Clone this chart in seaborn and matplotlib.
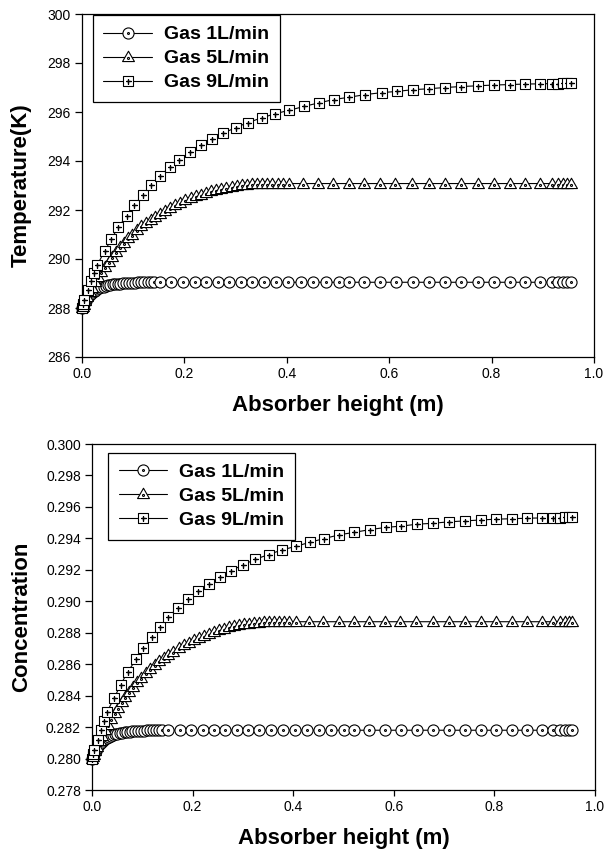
import matplotlib
matplotlib.use("Agg")
import matplotlib.pyplot as plt
from matplotlib.path import Path
from matplotlib.lines import Line2D
import numpy as np
import pandas as pd
import seaborn as sns

# ---------------- data ----------------
series_labels = ["Gas 1L/min", "Gas 5L/min", "Gas 9L/min"]

x_gas1 = [0.000, 0.002, 0.004, 0.007, 0.010, 0.014, 0.018, 0.022, 0.026, 0.030,
          0.034, 0.038, 0.042, 0.046, 0.050, 0.055, 0.060, 0.065, 0.070, 0.075,
          0.080, 0.086, 0.092, 0.098, 0.104, 0.110, 0.116, 0.122, 0.128, 0.134,
          0.140,
          0.152, 0.174, 0.197, 0.220, 0.243, 0.265, 0.288, 0.311, 0.333, 0.356,
          0.379, 0.403, 0.427, 0.451, 0.476, 0.501, 0.521, 0.551, 0.582, 0.614,
          0.646, 0.677, 0.709, 0.741, 0.773, 0.804, 0.835, 0.865, 0.894, 0.917,
          0.930, 0.940, 0.948, 0.955]
temp_gas1 = [288.00, 288.10, 288.19, 288.30, 288.40, 288.50, 288.58, 288.65, 288.71, 288.76,
             288.80, 288.84, 288.87, 288.90, 288.92, 288.94, 288.96, 288.98, 288.99, 289.00,
             289.01, 289.02, 289.03, 289.035, 289.04, 289.045, 289.05, 289.05, 289.05, 289.05,
             289.05,
             289.05, 289.05, 289.05, 289.05, 289.05, 289.05, 289.05, 289.05, 289.05, 289.05,
             289.05, 289.05, 289.05, 289.05, 289.05, 289.05, 289.05, 289.05, 289.05, 289.05,
             289.05, 289.05, 289.05, 289.05, 289.05, 289.05, 289.05, 289.05, 289.05, 289.05,
             289.05, 289.05, 289.05, 289.05]
conc_gas1 = [0.28000, 0.28017, 0.28033, 0.28051, 0.28069, 0.28086, 0.28099, 0.28111, 0.28122, 0.28130,
             0.28137, 0.28144, 0.28149, 0.28154, 0.28158, 0.28161, 0.28165, 0.28168, 0.28170, 0.28171,
             0.28173, 0.28175, 0.28177, 0.28177, 0.28178, 0.28179, 0.28180, 0.28180, 0.28180, 0.28180,
             0.28180,
             0.28180, 0.28180, 0.28180, 0.28180, 0.28180, 0.28180, 0.28180, 0.28180, 0.28180, 0.28180,
             0.28180, 0.28180, 0.28180, 0.28180, 0.28180, 0.28180, 0.28180, 0.28180, 0.28180, 0.28180,
             0.28180, 0.28180, 0.28180, 0.28180, 0.28180, 0.28180, 0.28180, 0.28180, 0.28180, 0.28180,
             0.28180, 0.28180, 0.28180, 0.28180]

x_gas5 = [0.000, 0.001, 0.003, 0.006, 0.010, 0.015, 0.020, 0.026, 0.032, 0.038,
          0.045, 0.052, 0.059, 0.066, 0.074, 0.082, 0.090, 0.098, 0.107, 0.116,
          0.125, 0.134, 0.143, 0.152, 0.162, 0.172, 0.182, 0.192, 0.202, 0.212,
          0.222, 0.232, 0.242, 0.252, 0.262, 0.272, 0.282, 0.292, 0.302, 0.312,
          0.322, 0.332, 0.342, 0.352, 0.362, 0.372, 0.382, 0.392,
          0.405, 0.431, 0.460, 0.491, 0.521, 0.551, 0.582, 0.612, 0.645, 0.677,
          0.709, 0.741, 0.773, 0.804, 0.835, 0.865, 0.894, 0.917, 0.930, 0.940,
          0.948, 0.955]
temp_gas5 = [288.00, 288.05, 288.14, 288.27, 288.44, 288.64, 288.83, 289.05, 289.26, 289.46,
             289.68, 289.89, 290.09, 290.28, 290.48, 290.67, 290.84, 291.00, 291.17, 291.33,
             291.47, 291.61, 291.73, 291.85, 291.97, 292.09, 292.20, 292.30, 292.39, 292.48,
             292.56, 292.63, 292.70, 292.76, 292.82, 292.87, 292.91, 292.95, 292.98, 293.01,
             293.03, 293.05, 293.06, 293.07, 293.08, 293.08, 293.08, 293.08,
             293.08, 293.08, 293.08, 293.08, 293.08, 293.08, 293.08, 293.08, 293.08, 293.08,
             293.08, 293.08, 293.08, 293.08, 293.08, 293.08, 293.08, 293.08, 293.08, 293.08,
             293.08, 293.08]
conc_gas5 = [0.28000, 0.28009, 0.28024, 0.28046, 0.28075, 0.28110, 0.28142, 0.28180, 0.28216, 0.28250,
             0.28288, 0.28324, 0.28358, 0.28390, 0.28425, 0.28457, 0.28486, 0.28514, 0.28543, 0.28570,
             0.28594, 0.28618, 0.28639, 0.28659, 0.28680, 0.28700, 0.28719, 0.28736, 0.28752, 0.28767,
             0.28781, 0.28793, 0.28805, 0.28815, 0.28825, 0.28834, 0.28841, 0.28848, 0.28853, 0.28858,
             0.28861, 0.28865, 0.28867, 0.28868, 0.28870, 0.28870, 0.28870, 0.28870,
             0.28870, 0.28870, 0.28870, 0.28870, 0.28870, 0.28870, 0.28870, 0.28870, 0.28870, 0.28870,
             0.28870, 0.28870, 0.28870, 0.28870, 0.28870, 0.28870, 0.28870, 0.28870, 0.28870, 0.28870,
             0.28870, 0.28870]

x_gas9 = [0.000, 0.001, 0.002, 0.004, 0.011, 0.017, 0.023, 0.030, 0.044, 0.057,
          0.071, 0.088, 0.102, 0.119, 0.135, 0.152, 0.171, 0.190, 0.211, 0.232,
          0.254, 0.276, 0.300, 0.324, 0.351, 0.377, 0.405, 0.434, 0.462, 0.492,
          0.521, 0.553, 0.585, 0.615, 0.646, 0.678, 0.709, 0.741, 0.773, 0.804,
          0.835, 0.865, 0.894, 0.917, 0.930, 0.940, 0.948, 0.955]
temp_gas9 = [288.00, 288.10, 288.18, 288.34, 288.72, 289.09, 289.43, 289.77, 290.31, 290.80,
             291.31, 291.77, 292.20, 292.63, 293.02, 293.39, 293.74, 294.06, 294.36, 294.64,
             294.91, 295.14, 295.36, 295.57, 295.76, 295.93, 296.07, 296.23, 296.37, 296.51,
             296.60, 296.71, 296.79, 296.84, 296.91, 296.95, 297.00, 297.04, 297.07, 297.10,
             297.12, 297.14, 297.15, 297.16, 297.16, 297.17, 297.17, 297.17]
conc_gas9 = [0.28000, 0.28017, 0.28030, 0.28057, 0.28120, 0.28182, 0.28239, 0.28296, 0.28386, 0.28468,
             0.28553, 0.28630, 0.28702, 0.28774, 0.28839, 0.28901, 0.28960, 0.29013, 0.29063, 0.29110,
             0.29155, 0.29194, 0.29231, 0.29266, 0.29297, 0.29326, 0.29349, 0.29376, 0.29399, 0.29423,
             0.29438, 0.29456, 0.29470, 0.29478, 0.29490, 0.29496, 0.29505, 0.29511, 0.29517, 0.29522,
             0.29525, 0.29528, 0.29530, 0.29532, 0.29532, 0.29533, 0.29533, 0.29533]

x_ticks = [0.0, 0.2, 0.4, 0.6, 0.8, 1.0]
temp_ticks = [286, 288, 290, 292, 294, 296, 298, 300]
conc_ticks = [0.278, 0.280, 0.282, 0.284, 0.286, 0.288, 0.290, 0.292, 0.294, 0.296, 0.298, 0.300]

# ---------------- marker shapes ----------------
def _circle_dot():
    c = Path.circle((0, 0), 1.0)
    d = Path.circle((0, 0), 0.17)
    return Path.make_compound_path(c, d)

def _triangle_dot():
    tri = Path([(0, 1.0), (-0.95, -0.65), (0.95, -0.65), (0, 1.0)],
               [Path.MOVETO, Path.LINETO, Path.LINETO, Path.CLOSEPOLY])
    d = Path.circle((0, -0.15), 0.16)
    return Path.make_compound_path(tri, d)

def _square_plus():
    sq = Path([(-1, -1), (1, -1), (1, 1), (-1, 1), (-1, -1)],
              [Path.MOVETO, Path.LINETO, Path.LINETO, Path.LINETO, Path.CLOSEPOLY])
    segs = []
    for off in (-0.09, -0.03, 0.03, 0.09):
        segs.append(Path([(-0.5, off), (0.5, off)], [Path.MOVETO, Path.LINETO]))
        segs.append(Path([(off, -0.5), (off, 0.5)], [Path.MOVETO, Path.LINETO]))
    return Path.make_compound_path(sq, *segs)

markers = [_circle_dot(), _triangle_dot(), _square_plus()]
msizes = [8.0, 9.0, 7.2]

# ---------------- style ----------------
sns.set_style("ticks")
plt.rcParams['font.family'] = ['Liberation Sans', 'DejaVu Sans']
plt.rcParams['axes.edgecolor'] = 'black'
plt.rcParams['axes.linewidth'] = 0.9
plt.rcParams['text.color'] = 'black'
plt.rcParams['axes.labelcolor'] = 'black'
plt.rcParams['xtick.color'] = 'black'
plt.rcParams['ytick.color'] = 'black'

fig = plt.figure(figsize=(6.05, 8.5), dpi=100)
ax1 = fig.add_axes([82 / 605, 1 - 357 / 850, 512 / 605, 343 / 850])
ax2 = fig.add_axes([92 / 605, 1 - 790 / 850, 503 / 605, 346 / 850])


def draw_panel(ax, xs, ys, yticks, ylim, ylabel, yfmt, legend_anchor):
    for i in range(3):
        df = pd.DataFrame({"height": xs[i], "value": ys[i]})
        sns.lineplot(data=df, x="height", y="value", ax=ax, estimator=None, sort=False,
                     color="black", linewidth=0.8, marker=markers[i], markersize=msizes[i],
                     markerfacecolor="white", markeredgecolor="black", markeredgewidth=0.8,
                     clip_on=False, zorder=3 + i)
    ax.set_xlim(0, 1.0)
    ax.set_ylim(*ylim)
    ax.set_xticks(x_ticks)
    ax.set_xticklabels([f"{t:.1f}" for t in x_ticks])
    ax.set_yticks(yticks)
    ax.set_yticklabels([yfmt.format(t) for t in yticks])
    ax.tick_params(axis="both", direction="out", labelsize=10, color="black",
                   labelcolor="black", width=0.9, pad=3)
    ax.tick_params(axis="x", length=4)
    ax.tick_params(axis="y", length=5)
    ax.set_xlabel("Absorber height (m)", fontsize=16, fontweight="bold", color="black")
    ax.set_ylabel(ylabel, fontsize=16, fontweight="bold", color="black")
    for s in ax.spines.values():
        s.set_visible(True)
        s.set_color("black")
    handles = [Line2D([0], [0], color="black", linewidth=0.8, marker=markers[i],
                      markersize=msizes[i], markerfacecolor="white",
                      markeredgecolor="black", markeredgewidth=0.8)
               for i in range(3)]
    leg = ax.legend(handles, series_labels, loc="upper left", bbox_to_anchor=legend_anchor,
                    bbox_transform=ax.transAxes, frameon=True, fancybox=False,
                    framealpha=1, edgecolor="black", numpoints=1, handlelength=2.5,
                    handletextpad=0.6, labelspacing=0.33, borderpad=0.55,
                    borderaxespad=0.0, prop={"weight": "bold", "size": 14})
    for t in leg.get_texts():
        t.set_color("black")
    leg.get_frame().set_linewidth(0.9)
    leg.set_zorder(10)


draw_panel(ax1, [x_gas1, x_gas5, x_gas9], [temp_gas1, temp_gas5, temp_gas9],
           temp_ticks, (286, 300), "Temperature(K)", "{:.0f}", (0.021, 0.997))
draw_panel(ax2, [x_gas1, x_gas5, x_gas9], [conc_gas1, conc_gas5, conc_gas9],
           conc_ticks, (0.278, 0.300), "Concentration", "{:.3f}", (0.032, 0.975))

ax1.yaxis.set_label_coords((32 - 82) / 512, 0.5)
ax2.yaxis.set_label_coords((32 - 92) / 503, 0.5)
ax1.xaxis.set_label_coords(0.5, (357 - 395) / 343)
ax2.xaxis.set_label_coords(0.5, (790 - 828) / 346)

fig.savefig("out.png", dpi=100, facecolor="white")
